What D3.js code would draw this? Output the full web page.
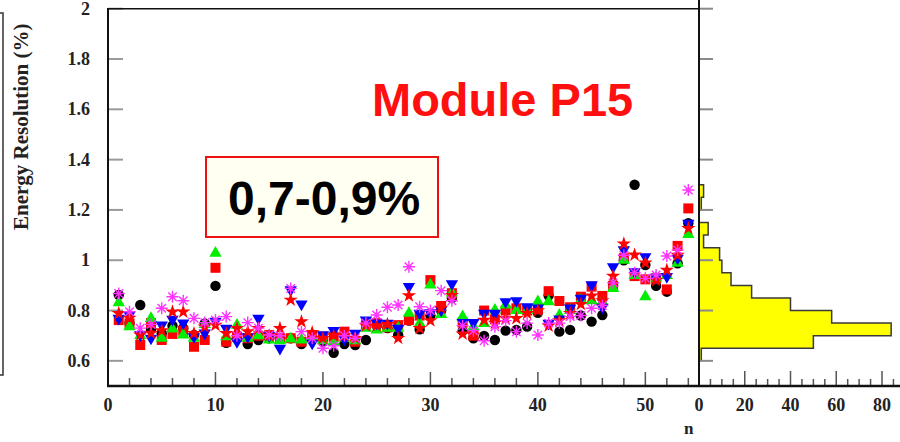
<!DOCTYPE html>
<html>
<head>
<meta charset="utf-8">
<script src="https://cdn.jsdelivr.net/npm/d3@7"></script>
<style>
  html, body { margin: 0; padding: 0; background: #fff; }
  svg { display: block; }
</style>
</head>
<body>
<svg id="chart" width="900" height="442"></svg>
<script>
// ---------------- DATA ----------------
const channels = d3.range(1, 55); // n = 1 .. 54

const blackCircle = [0.862,0.750,0.822,0.727,0.710,0.740,0.730,0.703,0.749,0.898,
  0.672,0.690,0.667,0.683,0.690,0.690,0.690,0.667,0.690,0.676,
  0.632,0.667,0.663,0.683,0.740,0.730,0.703,0.760,0.725,0.780,
  0.800,0.850,0.719,0.690,0.699,0.683,0.720,0.723,0.736,0.791,
  0.860,0.716,0.723,0.780,0.756,0.782,0.900,1.000,1.300,0.981,
  0.898,0.875,0.988,1.147];
const redSquare = [0.762,0.749,0.663,0.750,0.683,0.707,0.720,0.656,0.683,0.970,
  0.676,0.696,0.690,0.700,0.703,0.690,0.690,0.676,0.703,0.696,
  0.696,0.716,0.676,0.742,0.750,0.733,0.742,0.762,0.780,0.921,
  0.818,0.869,0.752,0.700,0.800,0.765,0.800,0.809,0.800,0.805,
  0.877,0.838,0.813,0.855,0.895,0.858,0.898,1.008,0.937,0.924,
  0.928,0.884,1.057,1.206];
const greenTriUp = [0.831,0.736,0.700,0.769,0.690,0.727,0.703,0.690,0.745,1.028,
  0.696,0.742,0.690,0.700,0.683,0.680,0.687,0.683,0.690,0.680,
  0.676,0.690,0.680,0.730,0.723,0.730,0.730,0.789,0.749,0.902,
  0.785,0.870,0.776,0.736,0.749,0.802,0.822,0.800,0.800,0.835,
  0.835,0.782,0.800,0.840,0.839,0.835,0.888,1.000,0.940,0.855,
  0.930,0.940,0.988,1.103];
const blueTriDown = [0.769,0.782,0.703,0.690,0.742,0.765,0.750,0.696,0.710,0.757,
  0.729,0.676,0.696,0.769,0.700,0.650,0.882,0.826,0.670,0.703,
  0.720,0.686,0.709,0.762,0.750,0.749,0.729,0.895,0.789,0.791,
  0.802,0.906,0.752,0.752,0.789,0.789,0.835,0.839,0.815,0.810,
  0.749,0.766,0.810,0.849,0.902,0.813,0.974,1.041,0.954,1.014,
  0.932,0.935,1.008,1.147];
const magentaAsterisk = [0.868,0.795,0.730,0.745,0.809,0.855,0.839,0.769,0.752,0.762,
  0.776,0.700,0.752,0.730,0.703,0.700,0.888,0.716,0.690,0.650,
  0.660,0.700,0.690,0.750,0.782,0.813,0.822,0.974,0.815,0.800,
  0.879,0.839,0.740,0.720,0.680,0.736,0.760,0.716,0.750,0.703,
  0.750,0.750,0.776,0.780,0.809,0.820,0.910,1.020,0.950,0.928,
  0.941,1.017,1.041,1.279];
const redStar = [0.789,0.770,0.703,0.710,0.720,0.795,0.795,0.709,0.735,0.742,
  0.709,0.729,0.716,0.729,0.700,0.729,0.842,0.756,0.712,0.690,
  0.700,0.700,0.690,0.740,0.740,0.745,0.690,0.859,0.729,0.760,
  0.810,0.860,0.707,0.703,0.762,0.750,0.769,0.769,0.789,0.800,
  0.739,0.760,0.789,0.825,0.858,0.840,0.937,1.065,1.021,0.990,
  0.920,0.961,1.020,1.127];

const yTicks = [0.6, 0.8, 1.0, 1.2, 1.4, 1.6, 1.8, 2.0];
const yTickLabels = ["0.6", "0.8", "1", "1.2", "1.4", "1.6", "1.8", "2"];
const xMajorTicks = [0, 10, 20, 30, 40, 50];
const histTicks = [0, 20, 40, 60, 80];

// projection histogram (bins of 0.05 in resolution)
const histLow = [0.60,0.65,0.70,0.75,0.80,0.85,0.90,0.95,1.00,1.05,1.10,1.15,1.20,1.25];
const histCount = [1,50,84,58,40,23,14,10,9,2,4,0,1,2];
const histBinWidth = 0.05;

// ---------------- SCALES ----------------
const svg = d3.select("#chart");
svg.append("rect").attr("width", 900).attr("height", 442).attr("fill", "#fff");

const x = d3.scaleLinear().domain([0, 54.9]).range([108, 698]);
const y = d3.scaleLinear().domain([0.5, 2.0]).range([386, 8.7]);
const hx = d3.scaleLinear().domain([0, 80]).range([699, 882]);

const serif = "'Liberation Serif','Times New Roman',Times,serif";
const sans = "'Liberation Sans',Arial,Helvetica,sans-serif";

// ---------------- HISTOGRAM ----------------
const pts = [];
const bins = histLow.map((lo, i) => ({lo, hi: lo + histBinWidth, c: histCount[i]}))
  .sort((a, b) => b.lo - a.lo);
pts.push([hx(0), y(bins[0].hi)]);
bins.forEach(b => { pts.push([hx(b.c), y(b.hi)]); pts.push([hx(b.c), y(b.lo)]); });
pts.push([hx(0), y(bins[bins.length - 1].lo)]);
svg.append("path")
  .attr("d", d3.line()(pts) + "Z")
  .attr("fill", "#ffff00").attr("stroke", "#3a3a3a").attr("stroke-width", 1.5);

// ---------------- TICKS ----------------
svg.append("g").selectAll("line").data(yTicks).join("line")
  .attr("x1", 108).attr("x2", 123)
  .attr("y1", d => y(d)).attr("y2", d => y(d))
  .attr("stroke", "#9a9a9a").attr("stroke-width", 2);
svg.append("g").selectAll("line").data(yTicks).join("line")
  .attr("x1", 699).attr("x2", 713)
  .attr("y1", d => y(d)).attr("y2", d => y(d))
  .attr("stroke", "#8a8a8a").attr("stroke-width", 2);

svg.append("g").selectAll("text").data(yTicks).join("text")
  .attr("x", 90).attr("y", d => y(d) + 6)
  .attr("text-anchor", "end")
  .attr("font-family", serif).attr("font-weight", "bold").attr("font-size", 18)
  .attr("fill", "#222")
  .text((d, i) => yTickLabels[i]);

const xMinor = d3.range(2, 55, 2).filter(v => v % 10 !== 0);
svg.append("g").selectAll("line").data(xMinor).join("line")
  .attr("x1", d => x(d)).attr("x2", d => x(d))
  .attr("y1", 386).attr("y2", 378)
  .attr("stroke", "#555").attr("stroke-width", 1.5);
svg.append("g").selectAll("line").data(xMajorTicks).join("line")
  .attr("x1", d => x(d)).attr("x2", d => x(d))
  .attr("y1", 386).attr("y2", 372)
  .attr("stroke", "#555").attr("stroke-width", 1.5);
svg.append("g").selectAll("text").data(xMajorTicks).join("text")
  .attr("x", d => x(d)).attr("y", 411)
  .attr("text-anchor", "middle")
  .attr("font-family", serif).attr("font-weight", "bold").attr("font-size", 18)
  .attr("fill", "#222")
  .text(d => d);

const hMinor = d3.range(5, 90, 5).filter(v => v % 20 !== 0);
svg.append("g").selectAll("line").data(hMinor).join("line")
  .attr("x1", d => hx(d)).attr("x2", d => hx(d))
  .attr("y1", 386).attr("y2", 379)
  .attr("stroke", "#555").attr("stroke-width", 1.5);
svg.append("g").selectAll("line").data(histTicks).join("line")
  .attr("x1", d => hx(d)).attr("x2", d => hx(d))
  .attr("y1", 386).attr("y2", 371)
  .attr("stroke", "#555").attr("stroke-width", 1.5);
svg.append("g").selectAll("text").data(histTicks).join("text")
  .attr("x", d => hx(d)).attr("y", 411)
  .attr("text-anchor", "middle")
  .attr("font-family", serif).attr("font-weight", "bold").attr("font-size", 18)
  .attr("fill", "#222")
  .text(d => d);

// ---------------- AXIS LINES ----------------
svg.append("line").attr("x1", 108).attr("x2", 108).attr("y1", y(2.0)).attr("y2", 387)
  .attr("stroke", "#111").attr("stroke-width", 2);
svg.append("line").attr("x1", 107).attr("x2", 698).attr("y1", y(2.0)).attr("y2", y(2.0))
  .attr("stroke", "#111").attr("stroke-width", 1.5);
svg.append("line").attr("x1", 107).attr("x2", 900).attr("y1", 386).attr("y2", 386)
  .attr("stroke", "#111").attr("stroke-width", 2.5);
svg.append("line").attr("x1", 699).attr("x2", 699).attr("y1", 0).attr("y2", 387)
  .attr("stroke", "#111").attr("stroke-width", 2);

svg.append("path").attr("d", "M0,13H3V375H0").attr("fill", "none")
  .attr("stroke", "#333").attr("stroke-width", 1.5);

// axis titles
svg.append("text")
  .attr("transform", "translate(28,230) rotate(-90)")
  .attr("font-family", serif).attr("font-weight", "bold").attr("font-size", 21)
  .attr("fill", "#222")
  .text("Energy Resolution (%)");
svg.append("text").attr("x", 684).attr("y", 434)
  .attr("font-family", serif).attr("font-weight", "bold").attr("font-size", 17)
  .attr("fill", "#222").text("n");

// ---------------- MARKERS ----------------
const asteriskPath = r => {
  const d = r * Math.SQRT1_2;
  return `M${-r},0L${r},0M0,${-r}L0,${r}M${-d},${-d}L${d},${d}M${-d},${d}L${d},${-d}`;
};
const series = [
  {vals: blackCircle, path: d3.symbol(d3.symbolCircle, 85)(), fill: "#000", stroke: "none"},
  {vals: redSquare, path: d3.symbol(d3.symbolSquare, 100)(), fill: "#ff0000", stroke: "none"},
  {vals: greenTriUp, path: d3.symbol(d3.symbolTriangle, 66)(), fill: "#00ee00", stroke: "none", rot: 0},
  {vals: blueTriDown, path: d3.symbol(d3.symbolTriangle, 66)(), fill: "#0000ff", stroke: "none", rot: 180},
  {vals: redStar, path: d3.symbol(d3.symbolStar, 64)(), fill: "#ff0000", stroke: "none"},
  {vals: magentaAsterisk, path: asteriskPath(6), fill: "none", stroke: "#ff33ff"}
];
series.forEach(s => {
  svg.append("g").selectAll("path").data(channels).join("path")
    .attr("d", s.path)
    .attr("transform", (n, i) => `translate(${x(n)},${y(s.vals[i])})` + (s.rot ? ` rotate(${s.rot})` : ""))
    .attr("fill", s.fill)
    .attr("stroke", s.stroke)
    .attr("stroke-width", 1.4);
});

// ---------------- ANNOTATIONS ----------------
svg.append("text").attr("x", 372).attr("y", 116)
  .attr("font-family", sans).attr("font-weight", "bold").attr("font-size", 47)
  .attr("fill", "#ff1010").text("Module P15");

svg.append("rect").attr("x", 206).attr("y", 157).attr("width", 232).attr("height", 80)
  .attr("fill", "#fffff2").attr("stroke", "#ee1111").attr("stroke-width", 2);
svg.append("text").attr("x", 228).attr("y", 215)
  .attr("font-family", sans).attr("font-weight", "bold").attr("font-size", 48)
  .attr("fill", "#000").text("0,7-0,9%");
</script>
</body>
</html>
